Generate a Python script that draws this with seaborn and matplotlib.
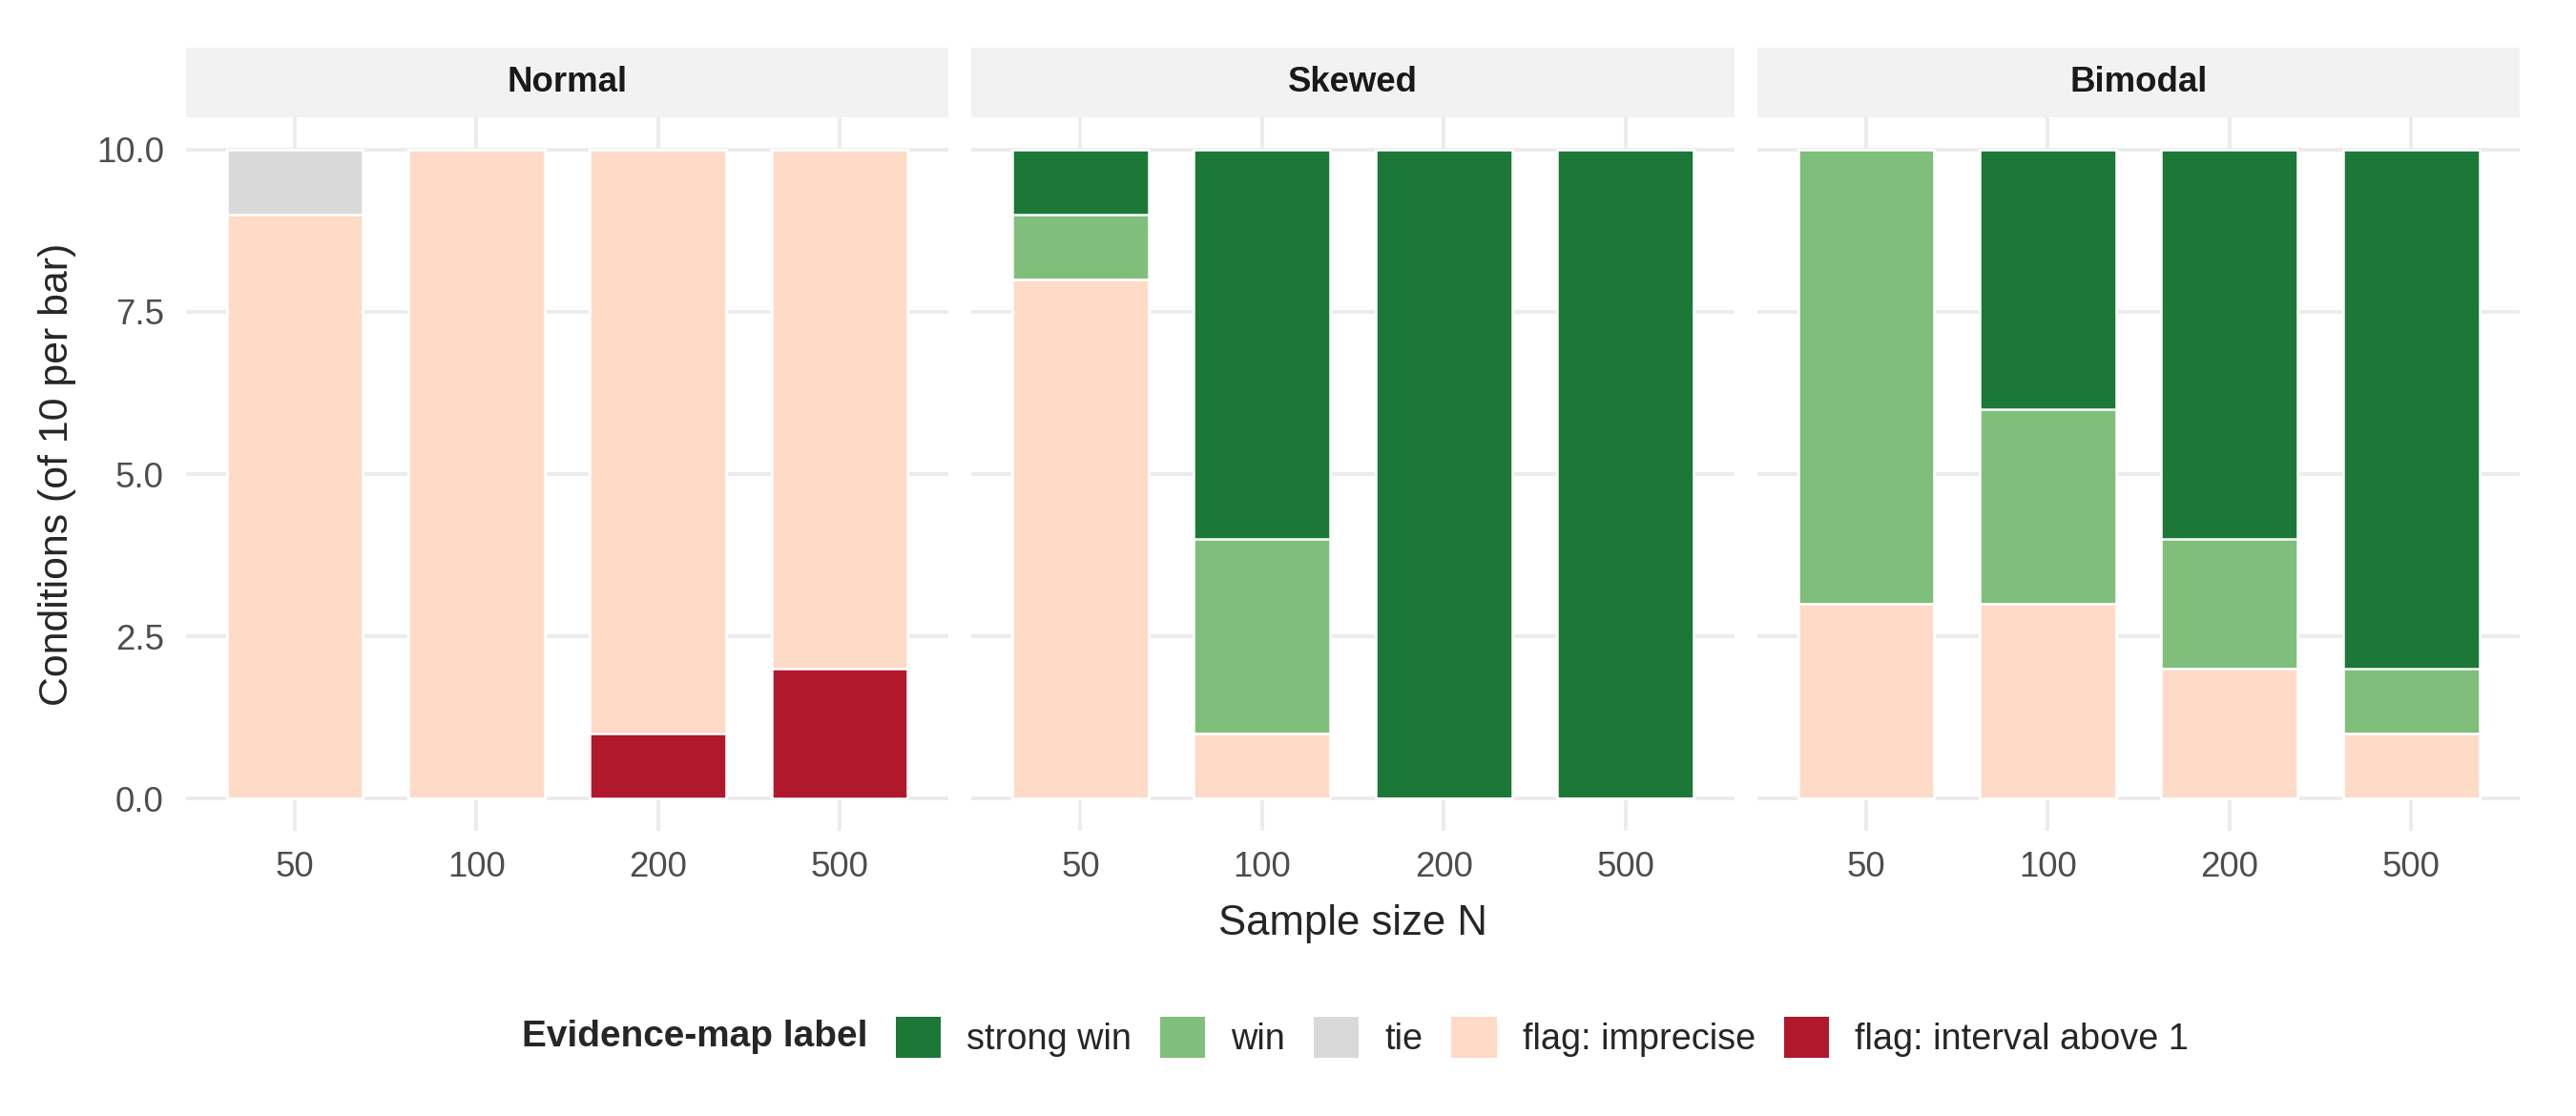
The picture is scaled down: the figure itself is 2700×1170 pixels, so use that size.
import pandas as pd
import numpy as np
import matplotlib
matplotlib.use("Agg")
import matplotlib.pyplot as plt
from matplotlib.patches import Patch, Rectangle
import seaborn as sns

sns.set_style("white")
plt.rcParams['font.family'] = ['Liberation Sans', 'DejaVu Sans']

# Data: counts of conditions per label (10 per bar)
sample_sizes = ["50", "100", "200", "500"]
distributions = ["Normal", "Skewed", "Bimodal"]
labels = ["strong win", "win", "tie", "flag: imprecise", "flag: interval above 1"]
label_colors = ["#1b7837", "#7fbf7b", "#d9d9d9", "#fddbc7", "#b2182b"]

normal_strong = [0, 0, 0, 0]
normal_win = [0, 0, 0, 0]
normal_tie = [1, 0, 0, 0]
normal_imprecise = [9, 10, 9, 8]
normal_above = [0, 0, 1, 2]

skewed_strong = [1, 6, 10, 10]
skewed_win = [1, 3, 0, 0]
skewed_tie = [0, 0, 0, 0]
skewed_imprecise = [8, 1, 0, 0]
skewed_above = [0, 0, 0, 0]

bimodal_strong = [0, 4, 6, 8]
bimodal_win = [7, 3, 2, 1]
bimodal_tie = [0, 0, 0, 0]
bimodal_imprecise = [3, 3, 2, 1]
bimodal_above = [0, 0, 0, 0]

counts = {
    "Normal": [normal_strong, normal_win, normal_tie, normal_imprecise, normal_above],
    "Skewed": [skewed_strong, skewed_win, skewed_tie, skewed_imprecise, skewed_above],
    "Bimodal": [bimodal_strong, bimodal_win, bimodal_tie, bimodal_imprecise, bimodal_above],
}

rows = []
for dist in distributions:
    for lab, vals in zip(labels, counts[dist]):
        for n, v in zip(sample_sizes, vals):
            rows.append({"dist": dist, "N": n, "label": lab, "count": v})
df = pd.DataFrame(rows)

# stacking: last label at the bottom, first label on top
stack_order = labels[::-1]
df["label"] = pd.Categorical(df["label"], categories=stack_order, ordered=True)
df = df.sort_values(["dist", "N", "label"])
df["cum"] = df.groupby(["dist", "N"], observed=True)["count"].cumsum()

grid_col = "#ebebeb"
fig, axes = plt.subplots(1, 3, figsize=(9, 3.9), dpi=300, sharey=True)
fig.subplots_adjust(left=0.0721, right=0.9783, bottom=0.2552, top=0.8951, wspace=0.0301)

for ax, dist in zip(axes, distributions):
    sub = df[df["dist"] == dist]
    # draw cumulative bars from the top layer downward
    for lab, col in zip(labels, label_colors):
        part = sub[sub["label"] == lab]
        sns.barplot(data=part, x="N", y="cum", order=sample_sizes, color=col,
                    saturation=1, width=0.75, edgecolor="white", linewidth=0.6,
                    errorbar=None, ax=ax)
    ax.set_xlim(-0.6, 3.6)
    ax.set_ylim(-0.5, 10.5)
    ax.set_yticks([0, 2.5, 5, 7.5, 10])
    ax.set_yticklabels(["0.0", "2.5", "5.0", "7.5", "10.0"])
    ax.set_axisbelow(True)
    ax.grid(True, axis="both", color=grid_col, linewidth=0.9)
    for s in ax.spines.values():
        s.set_visible(False)
    ax.tick_params(axis="both", length=0, labelsize=8.8, labelcolor="#4d4d4d")
    ax.tick_params(axis="x", pad=5)
    ax.tick_params(axis="y", pad=5.5)
    ax.set_xlabel("")
    ax.set_ylabel("")
    # facet strip
    ax.add_patch(Rectangle((0, 1), 1, 0.0967, transform=ax.transAxes,
                           facecolor="#f2f2f2", edgecolor="none", clip_on=False))
    ax.text(0.5, 1.0483, dist, transform=ax.transAxes, ha="center", va="center",
            fontsize=8.8, fontweight="bold", color="#1a1a1a")

fig.text(0.5253, 0.172, "Sample size N", ha="center", va="center", fontsize=10.5)
fig.text(0.0223, 0.575, "Conditions (of 10 per bar)", ha="center", va="center",
         rotation=90, fontsize=10.3)

handles = [Patch(facecolor=c, edgecolor="none") for c in label_colors]
fig.text(0.3367, 0.0707, "Evidence-map label", ha="right", va="center",
         fontsize=9.3, fontweight="bold")
fig.legend(handles, labels, loc="center left", bbox_to_anchor=(0.3476, 0.0707),
           ncol=5, frameon=False, fontsize=9.1, handlelength=1.25, handleheight=1.35,
           handletextpad=0.72, columnspacing=0.78, borderpad=0, borderaxespad=0)

fig.savefig("out.png", dpi=300)
